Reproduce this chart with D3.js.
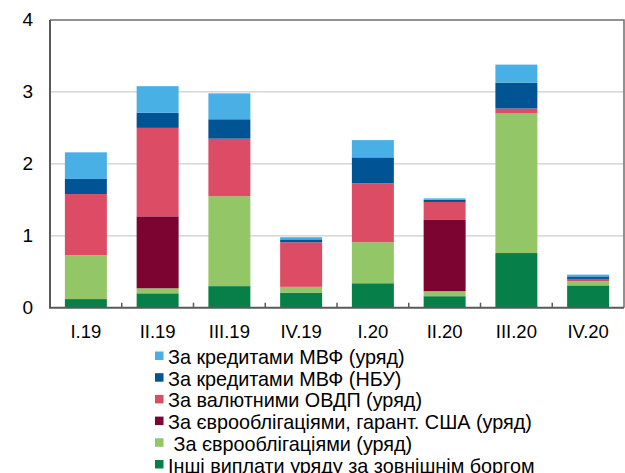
<!DOCTYPE html>
<html>
<head>
<meta charset="utf-8">
<script src="https://cdn.jsdelivr.net/npm/d3@7"></script>
<style>
	body { margin: 0; background: #fff; }
	text { font-family: "Liberation Sans", Arial, sans-serif; fill: #000; }
</style>
</head>
<body>
<div id="viz"></div>
<script>
"use strict";

var quarters = ["I.19", "II.19", "III.19", "IV.19", "I.20", "II.20", "III.20", "IV.20"];

// bottom to top order
var otherGov   = [0.12, 0.20, 0.30, 0.21, 0.34, 0.16, 0.76, 0.31];
var eurobonds  = [0.61, 0.07, 1.25, 0.08, 0.57, 0.07, 1.94, 0.06];
var eurobondsUS = [0.00, 1.00, 0.00, 0.00, 0.00, 0.99, 0.00, 0.00];
var fxBonds    = [0.85, 1.23, 0.80, 0.62, 0.82, 0.25, 0.07, 0.03];
var imfNbu     = [0.21, 0.21, 0.27, 0.04, 0.36, 0.03, 0.36, 0.035];
var imfGov     = [0.37, 0.37, 0.36, 0.03, 0.24, 0.02, 0.25, 0.025];

var seriesNames = [
	"Інші виплати уряду за зовнішнім боргом",
	" За єврооблігаціями (уряд)",
	"За єврооблігаціями, гарант. США (уряд)",
	"За валютними ОВДП (уряд)",
	"За кредитами МВФ (НБУ)",
	"За кредитами МВФ (уряд)"
];
var seriesColors = ["#077f48", "#93c666", "#7b0530", "#dc4d65", "#005493", "#48b0e5"];
var seriesValues = [otherGov, eurobonds, eurobondsUS, fxBonds, imfNbu, imfGov];
var yTicks = [0, 1, 2, 3, 4];

var chartW = 625, chartH = 473,
	plotLeft = 50, plotRight = 624, plotTop = 20, plotBottom = 307.7;

var rows = quarters.map(function(q, i) {
	var row = {q: q};
	seriesValues.forEach(function(vals, k) { row["s" + k] = vals[i]; });
	return row;
});

var stack = d3.stack().keys(seriesValues.map(function(d, k) { return "s" + k; }));
var layers = stack(rows);

var x = d3.scaleBand()
	.domain(quarters)
	.range([plotLeft, plotRight])
	.paddingInner(0.415)
	.paddingOuter(0.2075);

var y = d3.scaleLinear()
	.domain([0, 4])
	.range([plotBottom, plotTop]);

var svg = d3.select("#viz")
	.append("svg")
	.attr("width", chartW)
	.attr("height", chartH);

// gridlines
svg.append("g")
	.selectAll("line")
	.data(yTicks.slice(1, 4))
	.enter()
	.append("line")
	.attr("x1", plotLeft)
	.attr("x2", plotRight)
	.attr("y1", function(d) { return y(d); })
	.attr("y2", function(d) { return y(d); })
	.attr("stroke", "#c9ced2")
	.attr("stroke-width", 1.3);

// bars
svg.append("g")
	.selectAll("g")
	.data(layers)
	.enter()
	.append("g")
	.attr("fill", function(d, k) { return seriesColors[k]; })
	.selectAll("rect")
	.data(function(d) { return d; })
	.enter()
	.append("rect")
	.attr("x", function(d) { return x(d.data.q); })
	.attr("width", x.bandwidth())
	.attr("y", function(d) { return y(d[1]); })
	.attr("height", function(d) { return y(d[0]) - y(d[1]); });

// frame
svg.append("path")
	.attr("d", "M" + plotLeft + "," + plotTop + "H" + plotRight + "V" + plotBottom)
	.attr("fill", "none")
	.attr("stroke", "#6e6e6e")
	.attr("stroke-width", 1.5);

svg.append("path")
	.attr("d", "M" + plotLeft + "," + plotTop + "V" + plotBottom + "H" + plotRight)
	.attr("fill", "none")
	.attr("stroke", "#5a5a5a")
	.attr("stroke-width", 2);

// category separator ticks
var step = x.step();
svg.append("g")
	.selectAll("line")
	.data(quarters.slice(1))
	.enter()
	.append("line")
	.attr("x1", function(d) { return x(d) - x.paddingInner() * step / 2; })
	.attr("x2", function(d) { return x(d) - x.paddingInner() * step / 2; })
	.attr("y1", plotBottom)
	.attr("y2", plotBottom - 5)
	.attr("stroke", "#5a5a5a")
	.attr("stroke-width", 1.5);

// y labels
svg.append("g")
	.selectAll("text")
	.data(yTicks)
	.enter()
	.append("text")
	.attr("x", 33)
	.attr("y", function(d) { return y(d) + 1; })
	.attr("text-anchor", "end")
	.attr("dominant-baseline", "middle")
	.attr("font-size", "19px")
	.text(function(d) { return d; });

// x labels
svg.append("g")
	.selectAll("text")
	.data(quarters)
	.enter()
	.append("text")
	.attr("x", function(d) { return x(d) + x.bandwidth() / 2; })
	.attr("y", 338)
	.attr("text-anchor", "middle")
	.attr("font-size", "18.5px")
	.text(function(d) { return d; });

// legend, top entry is the top series (last row is clipped by the frame, as in the source)
var legend = svg.append("g")
	.selectAll("g")
	.data(d3.range(seriesNames.length).reverse())
	.enter()
	.append("g")
	.attr("transform", function(k, i) { return "translate(155," + (364 + i * 21.7) + ")"; });

legend.append("rect")
	.attr("x", 0)
	.attr("y", -12.5)
	.attr("width", 8.5)
	.attr("height", 8.5)
	.attr("fill", function(k) { return seriesColors[k]; });

legend.append("text")
	.attr("x", 13)
	.attr("y", 0)
	.attr("font-size", "19.8px")
	.style("white-space", "pre")
	.text(function(k) { return seriesNames[k]; });
</script>
</body>
</html>
